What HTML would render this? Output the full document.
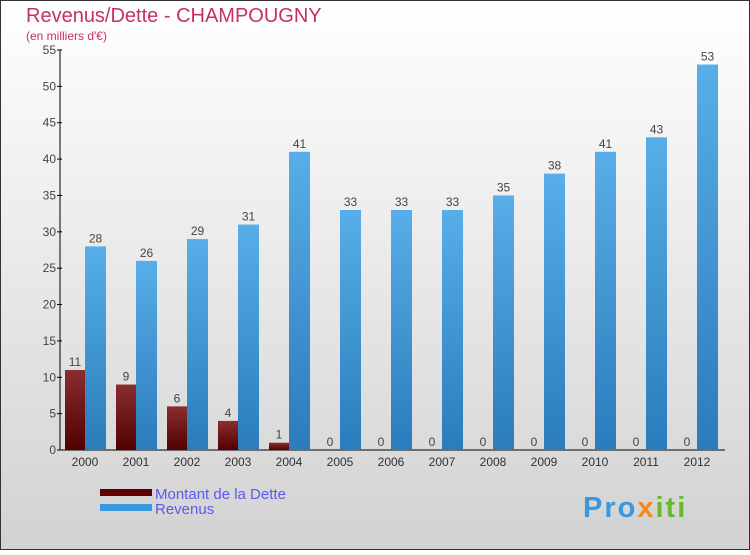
<!DOCTYPE html>
<html><head><meta charset="utf-8"><style>
body{margin:0;width:750px;height:550px;overflow:hidden;font-family:"Liberation Sans",sans-serif}
</style></head><body>
<svg width="750" height="550" xmlns="http://www.w3.org/2000/svg">
<defs>
<linearGradient id="bg" x1="0" y1="0" x2="0" y2="1"><stop offset="0" stop-color="#ffffff"/><stop offset="1" stop-color="#d2d2d2"/></linearGradient>
<linearGradient id="gd" x1="0" y1="0" x2="0" y2="1"><stop offset="0" stop-color="#8a2e30"/><stop offset="1" stop-color="#520000"/></linearGradient>
<linearGradient id="gr" x1="0" y1="0" x2="0" y2="1"><stop offset="0" stop-color="#58aee8"/><stop offset="1" stop-color="#2a7cbb"/></linearGradient>
</defs>
<rect x="0.5" y="0.5" width="749" height="549" fill="url(#bg)" stroke="#333"/>
<text x="26" y="22" font-size="20" fill="#c8305e">Revenus/Dette - CHAMPOUGNY</text>
<text x="26" y="40" font-size="12" fill="#c8305e">(en milliers d'€)</text>
<g id="plot"></g>
<rect x="100" y="489" width="52" height="7" fill="#600000"/>
<text x="155" y="499" font-size="15" fill="#5a5af0">Montant de la Dette</text>
<rect x="100" y="504" width="52" height="7" fill="#3a98de"/>
<text x="155" y="514" font-size="15" fill="#5a5af0">Revenus</text>
<text x="583" y="517" font-size="29" font-weight="bold" letter-spacing="2" fill="#3a98de">Pro<tspan fill="#f08a1c">x</tspan><tspan fill="#6ab82e">iti</tspan></text>
</svg>
<script>
const years=["2000","2001","2002","2003","2004","2005","2006","2007","2008","2009","2010","2011","2012"];
const dette=[11,9,6,4,1,0,0,0,0,0,0,0,0];
const revenus=[28,26,29,31,41,33,33,33,35,38,41,43,53];
const ticks=[0,5,10,15,20,25,30,35,40,45,50,55];
const NS="http://www.w3.org/2000/svg";
const g=document.getElementById('plot');
const y=v=>450-v*400/55;
const cx=i=>85+i*51;
function mk(t,a,txt){const e=document.createElementNS(NS,t);for(const k in a)e.setAttribute(k,a[k]);if(txt!==undefined)e.textContent=txt;g.appendChild(e);return e;}
let e;
e=mk('line',{x1:60,y1:50,x2:60,y2:450,stroke:'#000'});


e=mk('line',{x1:60,y1:450,x2:725,y2:450,stroke:'#000'});


ticks.forEach(t=>{
 e=mk('line',{x1:57,y1:y(t),x2:62,y2:y(t),stroke:'#000'});
 
 
 e=mk('text',{x:56,y:y(t)+4,'font-size':12,fill:'#444','text-anchor':'end'},t);
 
 
});
years.forEach((yr,i)=>{
 const c=cx(i);
 e=mk('rect',{x:c-20,y:y(dette[i]),width:20,height:450-y(dette[i]),fill:'url(#gd)'});
 
 
 e=mk('rect',{x:c,y:y(revenus[i]),width:21,height:450-y(revenus[i]),fill:'url(#gr)'});
 
 
 e=mk('text',{x:c-10,y:y(dette[i])-4,'font-size':12,fill:'#444','text-anchor':'middle'},dette[i]);
 
 
 e=mk('text',{x:c+10.5,y:y(revenus[i])-4,'font-size':12,fill:'#444','text-anchor':'middle'},revenus[i]);
 
 
 e=mk('text',{x:c,y:466,'font-size':12,fill:'#333','text-anchor':'middle'},yr);
 
 
});
</script>
</body></html>
